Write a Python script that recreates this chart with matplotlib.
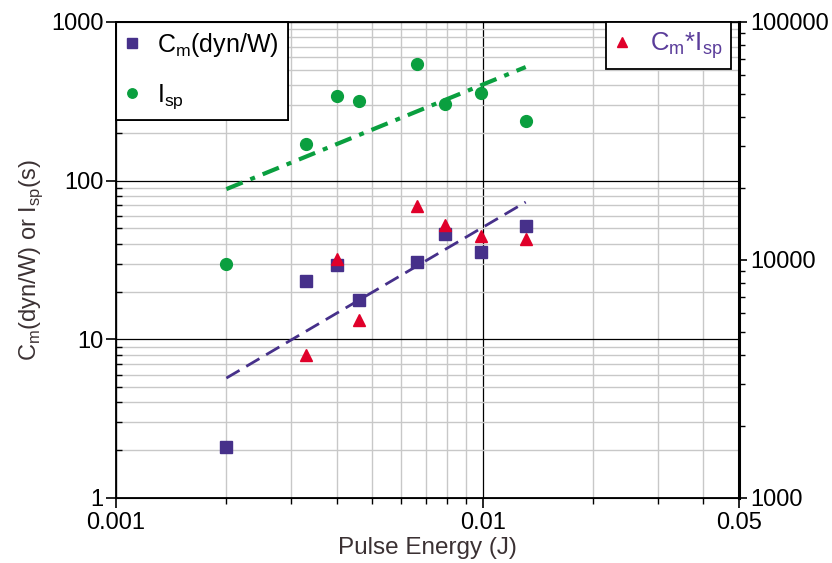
import matplotlib
matplotlib.use('Agg')
import matplotlib.pyplot as plt
from matplotlib.ticker import LogLocator, FixedLocator, NullFormatter, FixedFormatter

plt.rcParams['font.family'] = ['Liberation Sans', 'DejaVu Sans']
plt.rcParams['font.size'] = 17

# pulse energy (J)
energia = [0.002, 0.0033, 0.004, 0.0046, 0.0066, 0.0079, 0.0099, 0.0131]
cm = [2.1, 23.3, 29.4, 17.7, 30.7, 46.0, 35.5, 51.7]
isp = [30, 170, 341, 318, 543, 304, 356, 237]

# Cm*Isp, right axis (no point at 0.002, off the scale)
energia_prod = [0.0033, 0.004, 0.0046, 0.0066, 0.0079, 0.0099, 0.0131]
cm_isp = [3990, 10100, 5600, 16900, 14000, 12600, 12200]

# fit lines (end points)
ajuste_x = [0.002, 0.0131]
ajuste_cm = [5.7, 73.3]
ajuste_isp = [88.5, 520]

roxo = '#46308a'
verde = '#0a9f3f'
vermelho = '#e0002a'
cinza_texto = '#3b3133'

fig = plt.figure(figsize=(8.32, 5.63), dpi=100)
ax = fig.add_axes([116/832, 65/563, 623/832, 476/563])
ax.set_xscale('log')
ax.set_yscale('log')
ax.set_xlim(0.001, 0.05)
ax.set_ylim(1, 1000)

# grade
ax.grid(True, which='minor', color='#c8c8c8', linewidth=1.0)
ax.grid(True, which='major', color='black', linewidth=0.9)
ax.set_axisbelow(True)

ax.plot(ajuste_x, ajuste_cm, color=roxo, linewidth=2.0, dashes=(5.5, 2.8), zorder=3)
ax.plot(ajuste_x, ajuste_isp, color=verde, linewidth=3.0, dashes=(4.2, 2.0, 1.2, 2.0), zorder=3)
l1, = ax.plot(energia, cm, 's', color=roxo, markersize=8.5, linestyle='none', zorder=5,
              label='C$_\\mathregular{m}$(dyn/W)')
l2, = ax.plot(energia, isp, 'o', color=verde, markersize=8.5, linestyle='none', zorder=5,
              label='I$_\\mathregular{sp}$')

ax.xaxis.set_major_locator(FixedLocator([0.001, 0.01, 0.05]))
ax.xaxis.set_major_formatter(FixedFormatter(['0.001', '0.01', '0.05']))
ax.xaxis.set_minor_locator(FixedLocator([0.002, 0.003, 0.004, 0.005, 0.006, 0.007, 0.008, 0.009,
                                         0.02, 0.03, 0.04]))
ax.xaxis.set_minor_formatter(NullFormatter())
ax.yaxis.set_major_locator(FixedLocator([1, 10, 100, 1000]))
ax.yaxis.set_major_formatter(FixedFormatter(['1', '10', '100', '1000']))
ax.yaxis.set_minor_locator(LogLocator(base=10, subs=range(2, 10)))
ax.yaxis.set_minor_formatter(NullFormatter())
ax.tick_params(which='major', direction='out', length=7, width=1.2)
ax.tick_params(which='minor', direction='out', length=4, width=1.0)
ax.tick_params(axis='y', which='minor', direction='in')
ax.tick_params(axis='x', which='major', pad=3)
ax.tick_params(axis='y', which='major', pad=2)

ax.set_xlabel('Pulse Energy (J)', color=cinza_texto, fontsize=17.5, labelpad=2)
ax.set_ylabel('C$_\\mathregular{m}$(dyn/W) or I$_\\mathregular{sp}$(s)', color=cinza_texto,
              fontsize=17, labelpad=4)

for s in ax.spines.values():
    s.set_linewidth(1.3)

ax2 = ax.twinx()
ax2.set_yscale('log')
ax2.set_ylim(1000, 100000)
l3, = ax2.plot(energia_prod, cm_isp, '^', color=vermelho, markersize=8.5, linestyle='none', zorder=6,
               label='C$_\\mathregular{m}$*I$_\\mathregular{sp}$')
ax2.yaxis.set_major_locator(FixedLocator([1000, 10000, 100000]))
ax2.yaxis.set_major_formatter(FixedFormatter(['1000', '10000', '100000']))
ax2.yaxis.set_minor_locator(LogLocator(base=10, subs=range(2, 10)))
ax2.yaxis.set_minor_formatter(NullFormatter())
ax2.tick_params(which='major', direction='out', length=6, width=1.2, pad=2)
ax2.tick_params(which='minor', direction='out', length=4, width=1.0)
ax2.spines['right'].set_linewidth(2.2)

leg1 = ax.legend(handles=[l1, l2], loc='upper left', bbox_to_anchor=(0, 1), borderaxespad=0,
                 fancybox=False, framealpha=1, edgecolor='black', fontsize=18,
                 labelspacing=0.95, handlelength=0.6, handletextpad=0.7, borderpad=0.35,
                 markerscale=0.8)
leg1.get_frame().set_linewidth(1.3)
leg1.set_zorder(10)
ax.add_artist(leg1)

leg2 = ax2.legend(handles=[l3], loc='upper right', bbox_to_anchor=(0.987, 1), borderaxespad=0,
                  fancybox=False, framealpha=1, edgecolor='black', fontsize=18.5,
                  handlelength=0.6, handletextpad=0.8, borderpad=0.32, markerscale=0.8)
leg2.get_frame().set_linewidth(1.3)
for t in leg2.get_texts():
    t.set_color('#5a3c9a')

fig.savefig('out.png', dpi=100)
